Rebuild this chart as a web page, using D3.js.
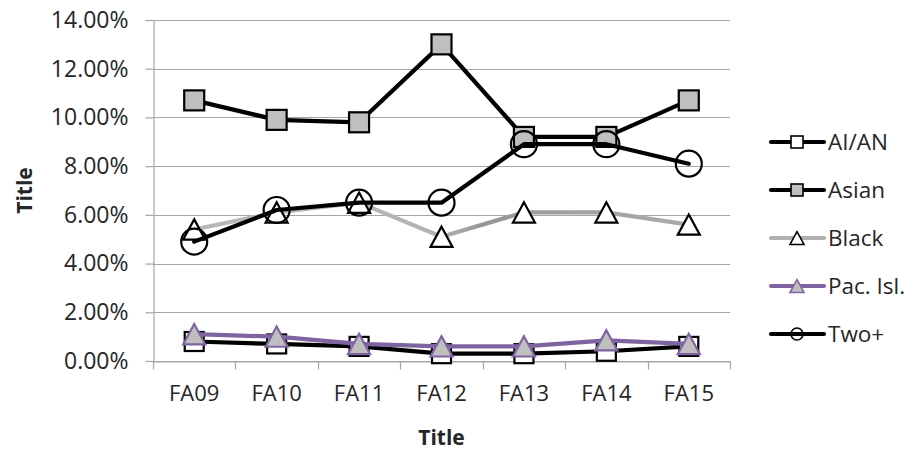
<!DOCTYPE html>
<html>
<head>
<meta charset="utf-8">
<script src="https://cdn.jsdelivr.net/npm/d3@7/dist/d3.min.js"></script>
<style>
  html, body { margin: 0; padding: 0; background: #fff; }
  svg { display: block; }
  text { font-family: "Open Sans", "Noto Sans", sans-serif; fill: #262626; }
</style>
</head>
<body>
<svg id="chart" width="912" height="453"></svg>
<script>
const categories = ["FA09", "FA10", "FA11", "FA12", "FA13", "FA14", "FA15"];
const yTicks = [0, 0.02, 0.04, 0.06, 0.08, 0.10, 0.12, 0.14];
const seriesNames = ["AI/AN", "Asian", "Black", "Pac. Isl.", "Two+"];
const aian  = [0.008, 0.007, 0.006, 0.003, 0.003, 0.004, 0.006];
const asian = [0.107, 0.099, 0.098, 0.130, 0.092, 0.092, 0.107];
const black = [0.054, 0.061, 0.065, 0.051, 0.061, 0.061, 0.056];
const pacisl = [0.011, 0.010, 0.007, 0.006, 0.006, 0.0085, 0.007];
const twoplus = [0.049, 0.062, 0.065, 0.065, 0.089, 0.089, 0.081];
const xTitle = "Title";
const yTitle = "Title";

const svg = d3.select("#chart");
const pLeft = 153, pRight = 730, pTop = 20, pBottom = 361;

const x = d3.scaleBand().domain(categories).range([pLeft, pRight]);
const y = d3.scaleLinear().domain([0, 0.14]).range([pBottom, pTop]);
const cx = c => x(c) + x.bandwidth() / 2;

// gradient for the "Black" series line
const defs = svg.append("defs");
const grad = defs.append("linearGradient").attr("id", "blackGrad")
  .attr("gradientUnits", "userSpaceOnUse")
  .attr("x1", cx(categories[0])).attr("x2", cx(categories[6]))
  .attr("y1", 0).attr("y2", 0);
grad.append("stop").attr("offset", "0").attr("stop-color", "#b8b8b8");
grad.append("stop").attr("offset", "0.5").attr("stop-color", "#b4b4b4");
grad.append("stop").attr("offset", "0.58").attr("stop-color", "#969696");
grad.append("stop").attr("offset", "0.75").attr("stop-color", "#a0a0a0");
grad.append("stop").attr("offset", "1").attr("stop-color", "#ababab");

// gridlines
svg.append("g").selectAll("line").data(yTicks).join("line")
  .attr("x1", pLeft).attr("x2", pRight)
  .attr("y1", d => Math.round(y(d)) + 0.5).attr("y2", d => Math.round(y(d)) + 0.5)
  .attr("stroke", "#a6a6a6").attr("stroke-width", 1.2);

// y axis
const yAxis = d3.axisLeft(y).tickValues(yTicks).tickSize(8).tickPadding(17)
  .tickFormat(d3.format(".2%"));
const gy = svg.append("g").attr("transform", `translate(${pLeft + 0.5},0)`).call(yAxis);
gy.select(".domain").attr("stroke", "#a6a6a6").attr("stroke-width", 1.2);
gy.selectAll(".tick line").attr("stroke", "#a6a6a6").attr("stroke-width", 1.2);
gy.selectAll(".tick text").style("font-size", "23px").attr("fill", "#262626")
  .style("font-family", '"Open Sans", sans-serif');

// x axis
const xAxis = d3.axisBottom(x).tickSize(0).tickPadding(24);
const gx = svg.append("g").attr("transform", `translate(0,${pBottom + 0.5})`).call(xAxis);
gx.select(".domain").attr("stroke", "#a6a6a6").attr("stroke-width", 1.2);
gx.selectAll(".tick text").style("font-size", "22px").attr("fill", "#262626")
  .style("font-family", '"Open Sans", sans-serif');
// boundary ticks
const bounds = categories.map(c => x(c)).concat([pRight]);
gx.append("g").selectAll("line").data(bounds).join("line")
  .attr("x1", d => Math.round(d) + 0.5).attr("x2", d => Math.round(d) + 0.5)
  .attr("y1", 0).attr("y2", 8)
  .attr("stroke", "#a6a6a6").attr("stroke-width", 1.2);

// titles
svg.append("text").attr("x", (pLeft + pRight) / 2).attr("y", 445)
  .attr("text-anchor", "middle").style("font-size", "21px").style("font-weight", "bold")
  .text(xTitle);
svg.append("text").attr("transform", `translate(32,${(pTop + pBottom) / 2}) rotate(-90)`)
  .attr("text-anchor", "middle").style("font-size", "21px").style("font-weight", "bold")
  .text(yTitle);

// marker drawing
function marker(g, type, size, fill, stroke, sw) {
  if (type === "square") {
    g.append("rect").attr("x", -size / 2).attr("y", -size / 2)
      .attr("width", size).attr("height", size)
      .attr("fill", fill).attr("stroke", stroke).attr("stroke-width", sw);
  } else if (type === "triangle") {
    const h = size * 0.92, w = size;
    g.append("path").attr("d", `M0,${-h / 2}L${w / 2},${h / 2}L${-w / 2},${h / 2}Z`)
      .attr("fill", fill).attr("stroke", stroke).attr("stroke-width", sw)
      .attr("stroke-linejoin", "miter");
  } else if (type === "circle") {
    g.append("circle").attr("r", size / 2)
      .attr("fill", fill).attr("stroke", stroke).attr("stroke-width", sw);
  }
}

const series = [
  { name: seriesNames[0], values: aian, line: "#000", type: "square", fill: "#fff", stroke: "#000", size: 19, legSize: 12 },
  { name: seriesNames[1], values: asian, line: "#000", type: "square", fill: "#bfbfbf", stroke: "#000", size: 20, legSize: 12 },
  { name: seriesNames[2], values: black, line: "url(#blackGrad)", legLine: "#b0b0b0", type: "triangle", fill: "#fff", stroke: "#000", size: 22, legSize: 14 },
  { name: seriesNames[3], values: pacisl, line: "#8064a2", type: "triangle", fill: "#bfbfbf", stroke: "#8064a2", size: 22, legSize: 14 },
  { name: seriesNames[4], values: twoplus, line: "#000", type: "circle", fill: "none", stroke: "#000", size: 26, legSize: 12 }
];

const lineGen = d3.line().x((d, i) => cx(categories[i])).y(d => y(d));

series.forEach(s => {
  const g = svg.append("g");
  g.append("path").attr("d", lineGen(s.values)).attr("fill", "none")
    .attr("stroke", s.line).attr("stroke-width", 4.2)
    .attr("stroke-linejoin", "round").attr("stroke-linecap", "round");
  s.values.forEach((v, i) => {
    const mg = g.append("g").attr("transform", `translate(${cx(categories[i])},${y(v)})`);
    marker(mg, s.type, s.size, s.fill, s.stroke, 2.2);
  });
});

// legend
const legY0 = 142, legStep = 48;
series.forEach((s, i) => {
  const ly = legY0 + i * legStep;
  const g = svg.append("g").attr("transform", `translate(0,${ly})`);
  g.append("line").attr("x1", 771).attr("x2", 824).attr("y1", 0).attr("y2", 0)
    .attr("stroke", s.legLine || s.line).attr("stroke-width", 4.2).attr("stroke-linecap", "round");
  const mg = g.append("g").attr("transform", "translate(797,0)");
  marker(mg, s.type, s.legSize, s.fill, s.stroke, 1.6);
  g.append("text").attr("x", 828).attr("y", 0).attr("dy", "0.35em")
    .style("font-size", "22.5px").text(s.name);
});
</script>
</body>
</html>
